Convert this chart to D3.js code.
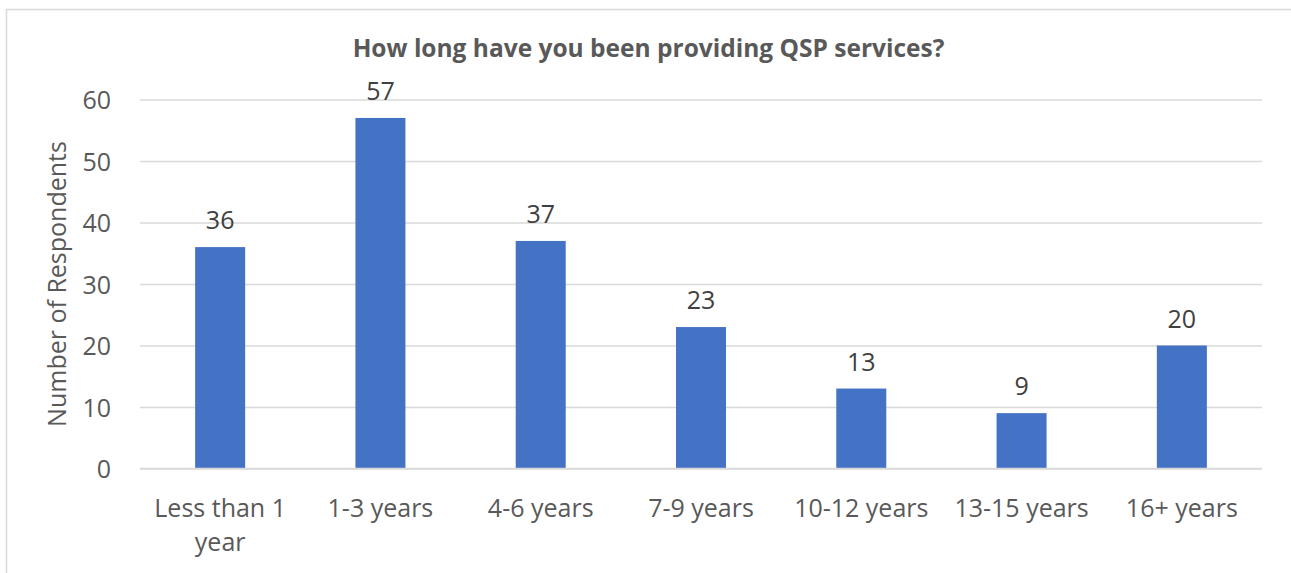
<!DOCTYPE html>
<html>
<head>
<meta charset="utf-8">
<script src="https://cdn.jsdelivr.net/npm/d3@7"></script>
<style>
  html, body { margin: 0; padding: 0; background: #fff; }
  svg { display: block; }
  text { font-family: "Open Sans", "Liberation Sans", sans-serif; }
</style>
</head>
<body>
<svg id="chart" width="1291" height="573"></svg>
<script>
const categories = ["Less than 1 year", "1-3 years", "4-6 years", "7-9 years", "10-12 years", "13-15 years", "16+ years"];
const values = [36, 57, 37, 23, 13, 9, 20];
const yTicks = [0, 10, 20, 30, 40, 50, 60];
const titleText = "How long have you been providing QSP services?";
const yAxisTitle = "Number of Respondents";

const svg = d3.select("#chart");
const W = 1291, H = 573;
const margin = { left: 140, right: 29, top: 99.5, bottom: 104.5 };
const FS = 25;

// outer border
svg.append("rect")
  .attr("x", 6.5).attr("y", 9.5)
  .attr("width", W + 10).attr("height", H + 10)
  .attr("fill", "#fff").attr("stroke", "#d9d9d9").attr("stroke-width", 1.5);

const x = d3.scaleBand().domain(categories)
  .range([margin.left, W - margin.right])
  .paddingInner(0.688).paddingOuter(0.344);
const y = d3.scaleLinear().domain([0, 60]).range([H - margin.bottom, margin.top]);

// gridlines
const yAxis = d3.axisLeft(y).tickValues(yTicks).tickSize(-(W - margin.right - margin.left)).tickPadding(29);
const gy = svg.append("g").attr("transform", `translate(${margin.left},0)`).call(yAxis);
gy.select(".domain").remove();
gy.selectAll(".tick line").attr("stroke", "#d9d9d9").attr("stroke-width", 1.3);
gy.selectAll(".tick text").attr("fill", "#595959").attr("font-size", FS).attr("dy", "0.36em")
  .style("font-family", "'Open Sans', sans-serif");

// bars
svg.append("g").selectAll("rect").data(values).join("rect")
  .attr("x", (d, i) => x(categories[i]))
  .attr("y", d => y(d))
  .attr("width", x.bandwidth())
  .attr("height", d => y(0) - y(d))
  .attr("fill", "#4472c4");

// baseline
svg.append("line")
  .attr("x1", margin.left).attr("x2", W - margin.right)
  .attr("y1", y(0)).attr("y2", y(0))
  .attr("stroke", "#d9d9d9").attr("stroke-width", 1.5);

// data labels
svg.append("g").selectAll("text").data(values).join("text")
  .attr("x", (d, i) => x(categories[i]) + x.bandwidth() / 2)
  .attr("y", d => y(d) - 18)
  .attr("text-anchor", "middle")
  .attr("fill", "#404040").attr("font-size", FS)
  .text(d => d);

// x-axis labels (wrap "Less than 1 year")
const xAxis = d3.axisBottom(x).tickSize(0).tickPadding(0);
const gx = svg.append("g").attr("transform", `translate(0,${y(0)})`).call(xAxis);
gx.select(".domain").remove();
gx.selectAll(".tick text").each(function(d) {
  const t = d3.select(this);
  t.text(null).attr("y", 0).attr("dy", null)
    .attr("fill", "#595959").attr("font-size", FS)
    .style("font-family", "'Open Sans', sans-serif");
  const lines = d === "Less than 1 year" ? ["Less than 1", "year"] : [d];
  lines.forEach((ln, k) => {
    t.append("tspan").attr("x", 0).attr("y", 48 + k * 34).text(ln);
  });
});

// title
svg.append("text")
  .attr("x", 648.5).attr("y", 57)
  .attr("text-anchor", "middle")
  .attr("fill", "#595959").attr("font-size", 24.5).attr("font-weight", "bold")
  .text(titleText);

// y axis title
svg.append("text")
  .attr("transform", `translate(66,${(y(0) + y(60)) / 2}) rotate(-90)`)
  .attr("text-anchor", "middle")
  .attr("fill", "#595959").attr("font-size", FS)
  .text(yAxisTitle);
</script>
</body>
</html>
